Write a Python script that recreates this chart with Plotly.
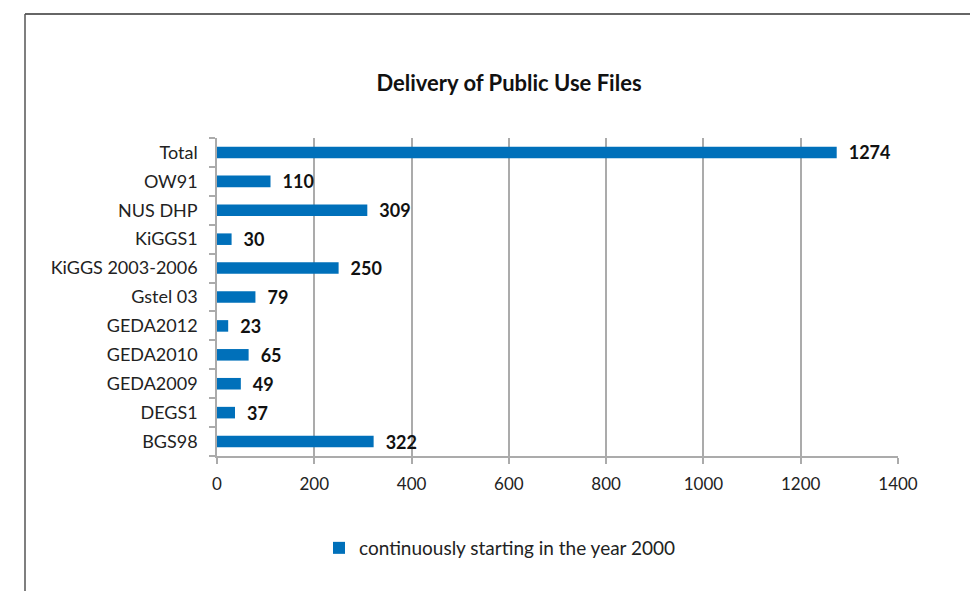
import plotly.graph_objects as go

categories = ["BGS98", "DEGS1", "GEDA2009", "GEDA2010", "GEDA2012", "Gstel 03",
              "KiGGS 2003-2006", "KiGGS1", "NUS DHP", "OW91", "Total"]
values = [322, 37, 49, 65, 23, 79, 250, 30, 309, 110, 1274]
series_name = "continuously starting in the year 2000"
title_text = "Delivery of Public Use Files"
x_ticks = [0, 200, 400, 600, 800, 1000, 1200, 1400]

FONT = "Lato, Open Sans, sans-serif"
BAR = "#0070BA"
GRID = "#ABABAB"

fig = go.Figure()
fig.add_trace(go.Bar(
    y=categories, x=values, orientation="h", name=series_name,
    marker=dict(color=BAR, line=dict(width=0)),
    width=0.4,
    text=["\u2002" + str(v) for v in values],
    textposition="outside",
    constraintext="none",
    textfont=dict(family=FONT, size=18, color="#111111", weight="bold"),
    cliponaxis=False,
    showlegend=True,
))

L, R, T, B = 217, 72, 138, 135
W, H = 970, 591
pw, ph = W - L - R, H - T - B

def px(x):
    return (x - L) / pw

def py(y):
    return (H - B - y) / ph

fig.update_layout(
    width=W, height=H,
    margin=dict(l=L, r=R, t=T, b=B),
    paper_bgcolor="white", plot_bgcolor="white",
    font=dict(family=FONT, size=18, color="#222222"),
    title=dict(text="<b>" + title_text + "</b>", x=509 / W, xanchor="center",
               y=1 - 83 / H, yanchor="middle",
               font=dict(family=FONT, size=22, color="#111111")),
    xaxis=dict(range=[0, 1400], tickvals=x_ticks, showgrid=True, gridcolor=GRID,
               gridwidth=1.5, showline=True, linecolor=GRID, linewidth=1.5,
               ticks="outside", ticklen=6, tickcolor=GRID, tickwidth=1.5,
               zeroline=False, tickfont=dict(size=17, color="#222222"), ticklabelstandoff=6),
    yaxis=dict(categoryorder="array", categoryarray=categories,
               showline=True, linecolor=GRID, linewidth=1.5,
               ticks="outside", ticklen=6, tickcolor=GRID, tickwidth=1.5,
               tickson="boundaries", showgrid=False,
               tickfont=dict(size=18, color="#222222"), ticklabelstandoff=14),
    bargap=0.6,
    legend=dict(x=px(319), y=py(548), xanchor="left", yanchor="middle",
                orientation="h", font=dict(size=19, color="#222222"),
                itemwidth=30, bgcolor="rgba(0,0,0,0)"),
    shapes=[
        dict(type="line", xref="paper", yref="paper", x0=px(25), x1=px(972),
             y0=py(14), y1=py(14), line=dict(color="#333333", width=1.5)),
        dict(type="line", xref="paper", yref="paper", x0=px(25), x1=px(25),
             y0=py(14), y1=py(593), line=dict(color="#555555", width=1.5)),
    ],
)

fig.write_html("out.html", config={"displayModeBar": False},
               post_script="document.body.style.margin='0';document.body.style.overflow='hidden';")
